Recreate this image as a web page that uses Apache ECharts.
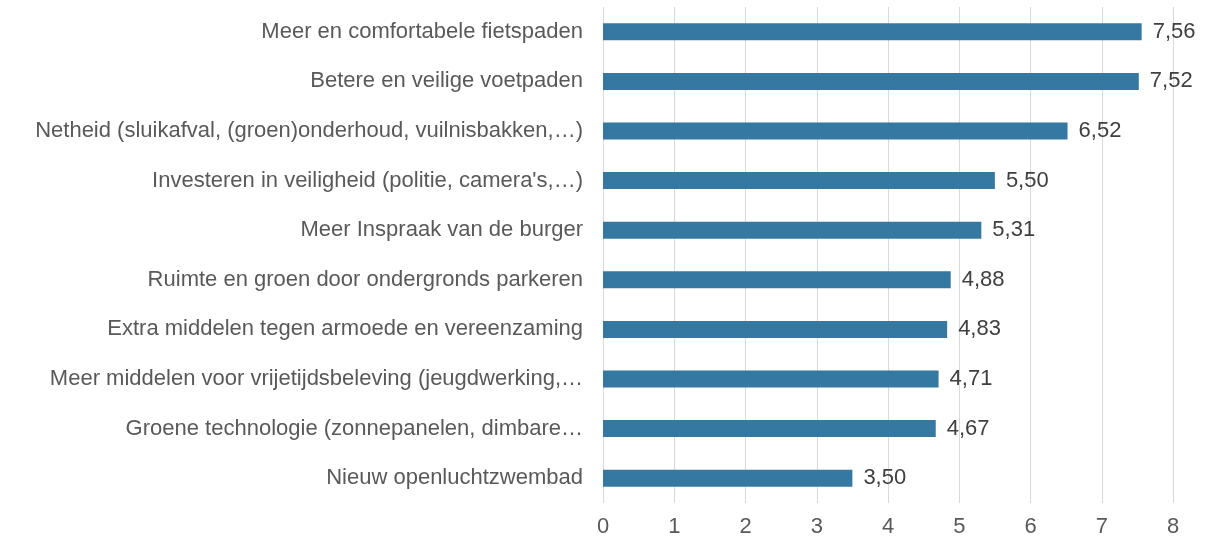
<!DOCTYPE html>
<html>
<head>
<meta charset="utf-8">
<script src="https://cdn.jsdelivr.net/npm/echarts@6/dist/echarts.min.js"></script>
<style>
html,body{margin:0;padding:0;background:#fff;}
#chart{width:1210px;height:543px;}
</style>
</head>
<body>
<div id="chart"></div>
<script>
const categories = [
  "Meer en comfortabele fietspaden",
  "Betere en veilige voetpaden",
  "Netheid (sluikafval, (groen)onderhoud, vuilnisbakken,…)",
  "Investeren in veiligheid (politie, camera's,…)",
  "Meer Inspraak van de burger",
  "Ruimte en groen door ondergronds parkeren",
  "Extra middelen tegen armoede en vereenzaming",
  "Meer middelen voor vrijetijdsbeleving (jeugdwerking,…",
  "Groene technologie (zonnepanelen, dimbare…",
  "Nieuw openluchtzwembad"
];
const values = [7.56, 7.52, 6.52, 5.50, 5.31, 4.88, 4.83, 4.71, 4.67, 3.50];
const xTicks = [0, 1, 2, 3, 4, 5, 6, 7, 8];

const chart = echarts.init(document.getElementById('chart'));
chart.setOption({
  animation: false,
  backgroundColor: '#ffffff',
  grid: { left: 603, right: 37, top: 7, bottom: 40, containLabel: false },
  xAxis: {
    type: 'value',
    min: xTicks[0],
    max: xTicks[xTicks.length - 1],
    interval: 1,
    axisLine: { show: false },
    axisTick: { show: false },
    axisLabel: { color: '#595959', fontSize: 22, fontFamily: 'Liberation Sans, Arial', margin: 13 },
    splitLine: { show: true, lineStyle: { color: '#d9d9d9', width: 1 } }
  },
  yAxis: {
    type: 'category',
    inverse: true,
    data: categories,
    axisLine: { show: false },
    axisTick: { show: false },
    axisLabel: { color: '#595959', fontSize: 22, fontFamily: 'Liberation Sans, Arial', margin: 20 }
  },
  series: [{
    type: 'bar',
    data: values,
    barWidth: 17,
    itemStyle: { color: '#3579a3' },
    label: {
      show: true,
      position: 'right',
      distance: 11,
      color: '#404040',
      fontSize: 22,
      fontFamily: 'Liberation Sans, Arial',
      formatter: p => p.value.toFixed(2).replace('.', ',')
    }
  }]
});
</script>
</body>
</html>
